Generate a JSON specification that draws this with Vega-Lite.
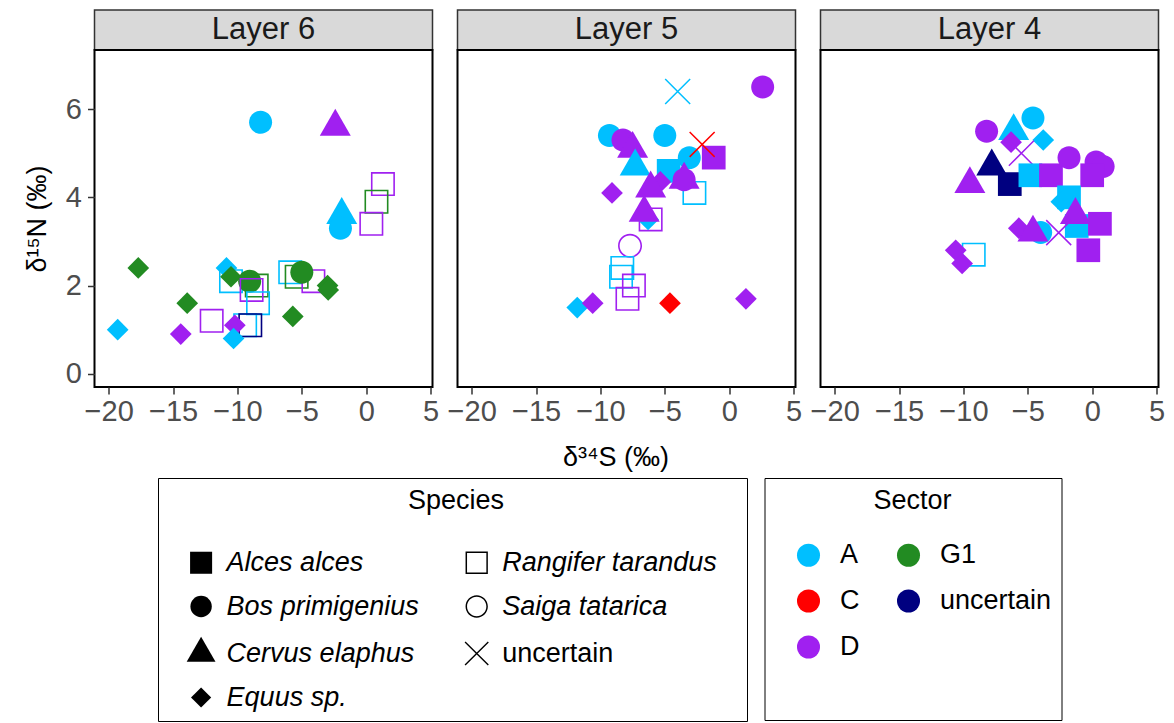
{
  "$schema": "https://vega.github.io/schema/vega-lite/v6.json",
  "padding": {"left": 21.5, "top": 9, "right": 5, "bottom": 0},
  "background": "white",
  "datasets": {
    "layers": [{"layer": "Layer 6"}, {"layer": "Layer 5"}, {"layer": "Layer 4"}],
    "points": [
      {"layer": "Layer 6", "species": "Bos primigenius", "sector": "A", "d34S": -8.2, "d15N": 5.7},
      {"layer": "Layer 6", "species": "Cervus elaphus", "sector": "D", "d34S": -2.4, "d15N": 5.6},
      {"layer": "Layer 6", "species": "Cervus elaphus", "sector": "A", "d34S": -1.9, "d15N": 3.6},
      {"layer": "Layer 6", "species": "Bos primigenius", "sector": "A", "d34S": -2.0, "d15N": 3.3},
      {"layer": "Layer 6", "species": "Rangifer tarandus", "sector": "D", "d34S": 1.3, "d15N": 4.3},
      {"layer": "Layer 6", "species": "Rangifer tarandus", "sector": "G1", "d34S": 0.8, "d15N": 3.9},
      {"layer": "Layer 6", "species": "Rangifer tarandus", "sector": "D", "d34S": 0.4, "d15N": 3.4},
      {"layer": "Layer 6", "species": "Equus sp.", "sector": "G1", "d34S": -17.7, "d15N": 2.4},
      {"layer": "Layer 6", "species": "Equus sp.", "sector": "A", "d34S": -19.3, "d15N": 1.0},
      {"layer": "Layer 6", "species": "Equus sp.", "sector": "G1", "d34S": -13.9, "d15N": 1.6},
      {"layer": "Layer 6", "species": "Equus sp.", "sector": "D", "d34S": -14.4, "d15N": 0.9},
      {"layer": "Layer 6", "species": "Rangifer tarandus", "sector": "D", "d34S": -12.0, "d15N": 1.2},
      {"layer": "Layer 6", "species": "Equus sp.", "sector": "A", "d34S": -10.85, "d15N": 2.4},
      {"layer": "Layer 6", "species": "Rangifer tarandus", "sector": "A", "d34S": -10.5, "d15N": 2.1},
      {"layer": "Layer 6", "species": "Equus sp.", "sector": "G1", "d34S": -10.5, "d15N": 2.2},
      {"layer": "Layer 6", "species": "Bos primigenius", "sector": "G1", "d34S": -9.05, "d15N": 2.1},
      {"layer": "Layer 6", "species": "Rangifer tarandus", "sector": "G1", "d34S": -8.5, "d15N": 2.0},
      {"layer": "Layer 6", "species": "Rangifer tarandus", "sector": "D", "d34S": -8.9, "d15N": 1.9},
      {"layer": "Layer 6", "species": "Rangifer tarandus", "sector": "A", "d34S": -8.4, "d15N": 1.6},
      {"layer": "Layer 6", "species": "Rangifer tarandus", "sector": "A", "d34S": -9.4, "d15N": 1.1},
      {"layer": "Layer 6", "species": "Rangifer tarandus", "sector": "uncertain", "d34S": -9.0, "d15N": 1.1},
      {"layer": "Layer 6", "species": "Equus sp.", "sector": "D", "d34S": -10.2, "d15N": 1.1},
      {"layer": "Layer 6", "species": "Equus sp.", "sector": "A", "d34S": -10.3, "d15N": 0.8},
      {"layer": "Layer 6", "species": "Rangifer tarandus", "sector": "A", "d34S": -5.9, "d15N": 2.3},
      {"layer": "Layer 6", "species": "Rangifer tarandus", "sector": "G1", "d34S": -5.4, "d15N": 2.2},
      {"layer": "Layer 6", "species": "Rangifer tarandus", "sector": "D", "d34S": -4.1, "d15N": 2.1},
      {"layer": "Layer 6", "species": "Bos primigenius", "sector": "G1", "d34S": -5.0, "d15N": 2.3},
      {"layer": "Layer 6", "species": "Equus sp.", "sector": "G1", "d34S": -3.0, "d15N": 2.0},
      {"layer": "Layer 6", "species": "Equus sp.", "sector": "G1", "d34S": -2.95, "d15N": 1.9},
      {"layer": "Layer 6", "species": "Equus sp.", "sector": "G1", "d34S": -5.7, "d15N": 1.3},

      {"layer": "Layer 5", "species": "Rangifer tarandus", "sector": "A", "d34S": -2.7, "d15N": 4.1},
      {"layer": "Layer 5", "species": "Rangifer tarandus", "sector": "D", "d34S": -6.1, "d15N": 3.5},
      {"layer": "Layer 5", "species": "Bos primigenius", "sector": "D", "d34S": 2.6, "d15N": 6.5},
      {"layer": "Layer 5", "species": "Bos primigenius", "sector": "A", "d34S": -9.3, "d15N": 5.4},
      {"layer": "Layer 5", "species": "Bos primigenius", "sector": "D", "d34S": -8.25, "d15N": 5.3},
      {"layer": "Layer 5", "species": "Cervus elaphus", "sector": "D", "d34S": -7.5, "d15N": 5.1},
      {"layer": "Layer 5", "species": "Bos primigenius", "sector": "A", "d34S": -5.0, "d15N": 5.4},
      {"layer": "Layer 5", "species": "Bos primigenius", "sector": "A", "d34S": -3.1, "d15N": 4.9},
      {"layer": "Layer 5", "species": "Alces alces", "sector": "D", "d34S": -1.2, "d15N": 4.9},
      {"layer": "Layer 5", "species": "Alces alces", "sector": "A", "d34S": -4.7, "d15N": 4.6},
      {"layer": "Layer 5", "species": "Cervus elaphus", "sector": "A", "d34S": -7.3, "d15N": 4.7},
      {"layer": "Layer 5", "species": "Equus sp.", "sector": "D", "d34S": -5.35, "d15N": 4.35},
      {"layer": "Layer 5", "species": "Cervus elaphus", "sector": "D", "d34S": -6.1, "d15N": 4.2},
      {"layer": "Layer 5", "species": "Bos primigenius", "sector": "D", "d34S": -3.5, "d15N": 4.4},
      {"layer": "Layer 5", "species": "Cervus elaphus", "sector": "D", "d34S": -3.5, "d15N": 4.4},
      {"layer": "Layer 5", "species": "Equus sp.", "sector": "D", "d34S": -9.1, "d15N": 4.1},
      {"layer": "Layer 5", "species": "Equus sp.", "sector": "A", "d34S": -6.3, "d15N": 3.5},
      {"layer": "Layer 5", "species": "Cervus elaphus", "sector": "D", "d34S": -6.6, "d15N": 3.65},
      {"layer": "Layer 5", "species": "Saiga tatarica", "sector": "D", "d34S": -7.7, "d15N": 2.9},
      {"layer": "Layer 5", "species": "Rangifer tarandus", "sector": "A", "d34S": -8.3, "d15N": 2.4},
      {"layer": "Layer 5", "species": "Rangifer tarandus", "sector": "A", "d34S": -8.4, "d15N": 2.2},
      {"layer": "Layer 5", "species": "Rangifer tarandus", "sector": "D", "d34S": -7.4, "d15N": 2.0},
      {"layer": "Layer 5", "species": "Rangifer tarandus", "sector": "D", "d34S": -7.9, "d15N": 1.7},
      {"layer": "Layer 5", "species": "Equus sp.", "sector": "A", "d34S": -11.8, "d15N": 1.5},
      {"layer": "Layer 5", "species": "Equus sp.", "sector": "D", "d34S": -10.6, "d15N": 1.6},
      {"layer": "Layer 5", "species": "Equus sp.", "sector": "C", "d34S": -4.6, "d15N": 1.6},
      {"layer": "Layer 5", "species": "Equus sp.", "sector": "D", "d34S": 1.3, "d15N": 1.7},
      {"layer": "Layer 5", "species": "uncertain", "sector": "A", "d34S": -4.0, "d15N": 6.4},
      {"layer": "Layer 5", "species": "uncertain", "sector": "C", "d34S": -2.1, "d15N": 5.2},

      {"layer": "Layer 4", "species": "Rangifer tarandus", "sector": "A", "d34S": -9.2, "d15N": 2.7},
      {"layer": "Layer 4", "species": "Bos primigenius", "sector": "D", "d34S": -8.2, "d15N": 5.5},
      {"layer": "Layer 4", "species": "Cervus elaphus", "sector": "A", "d34S": -6.1, "d15N": 5.5},
      {"layer": "Layer 4", "species": "Bos primigenius", "sector": "A", "d34S": -4.6, "d15N": 5.8},
      {"layer": "Layer 4", "species": "Equus sp.", "sector": "D", "d34S": -6.3, "d15N": 5.25},
      {"layer": "Layer 4", "species": "Equus sp.", "sector": "A", "d34S": -3.8, "d15N": 5.3},
      {"layer": "Layer 4", "species": "uncertain", "sector": "D", "d34S": -5.5, "d15N": 5.0},
      {"layer": "Layer 4", "species": "Cervus elaphus", "sector": "uncertain", "d34S": -7.8, "d15N": 4.7},
      {"layer": "Layer 4", "species": "Alces alces", "sector": "uncertain", "d34S": -6.4, "d15N": 4.3},
      {"layer": "Layer 4", "species": "Cervus elaphus", "sector": "D", "d34S": -9.5, "d15N": 4.3},
      {"layer": "Layer 4", "species": "Alces alces", "sector": "A", "d34S": -4.8, "d15N": 4.5},
      {"layer": "Layer 4", "species": "Alces alces", "sector": "D", "d34S": -3.2, "d15N": 4.5},
      {"layer": "Layer 4", "species": "Bos primigenius", "sector": "D", "d34S": -1.8, "d15N": 4.9},
      {"layer": "Layer 4", "species": "Bos primigenius", "sector": "D", "d34S": 0.3, "d15N": 4.8},
      {"layer": "Layer 4", "species": "Bos primigenius", "sector": "D", "d34S": 0.85, "d15N": 4.7},
      {"layer": "Layer 4", "species": "Alces alces", "sector": "D", "d34S": 0.0, "d15N": 4.5},
      {"layer": "Layer 4", "species": "Alces alces", "sector": "A", "d34S": -1.8, "d15N": 4.0},
      {"layer": "Layer 4", "species": "Equus sp.", "sector": "A", "d34S": -2.4, "d15N": 3.9},
      {"layer": "Layer 4", "species": "Alces alces", "sector": "A", "d34S": -1.2, "d15N": 3.35},
      {"layer": "Layer 4", "species": "Cervus elaphus", "sector": "D", "d34S": -1.3, "d15N": 3.6},
      {"layer": "Layer 4", "species": "Alces alces", "sector": "D", "d34S": 0.6, "d15N": 3.4},
      {"layer": "Layer 4", "species": "Alces alces", "sector": "D", "d34S": -0.3, "d15N": 2.8},
      {"layer": "Layer 4", "species": "Bos primigenius", "sector": "A", "d34S": -4.0, "d15N": 3.2},
      {"layer": "Layer 4", "species": "uncertain", "sector": "D", "d34S": -2.6, "d15N": 3.2},
      {"layer": "Layer 4", "species": "Equus sp.", "sector": "D", "d34S": -5.7, "d15N": 3.3},
      {"layer": "Layer 4", "species": "Cervus elaphus", "sector": "D", "d34S": -4.6, "d15N": 3.2},
      {"layer": "Layer 4", "species": "Equus sp.", "sector": "D", "d34S": -10.6, "d15N": 2.8},
      {"layer": "Layer 4", "species": "Equus sp.", "sector": "D", "d34S": -10.1, "d15N": 2.5}
    ]
  },
  "config": {
    "font": "Liberation Sans",
    "view": {"stroke": null},
    "axis": {"domain": false, "grid": false, "tickColor": "#333333", "tickWidth": 1.5, "tickSize": 7, "labelColor": "#4d4d4d", "labelFontSize": 29, "labelFont": "Liberation Sans", "labelPadding": 3, "labelFlush": false, "labelOverlap": false, "labelBound": false, "titleFont": "Liberation Sans", "titleFontSize": 27, "titleFontWeight": "normal", "titleColor": "black"},
    "axisY": {"titlePadding": 14, "labelPadding": 6},
    "axisX": {"titlePadding": 18},
    "legend": {"labelFont": "Liberation Sans", "labelFontSize": 27, "labelColor": "black", "titleFont": "Liberation Sans", "titleFontSize": 27, "titleFontWeight": "normal", "titleColor": "black", "strokeColor": "black", "symbolOpacity": 1, "labelLimit": 0, "titleLimit": 0, "direction": "vertical"}
  },
  "spacing": 5,
  "resolve": {"scale": {"color": "shared", "shape": "shared"}, "legend": {"color": "shared", "shape": "shared"}},
  "hconcat": [
    {
      "spacing": 0,
      "bounds": "flush",
      "vconcat": [
        {
          "data": {"name": "layers"},
          "transform": [{"filter": "datum.layer === 'Layer 6'"}],
          "width": 338, "height": 40,
          "view": {"fill": "#d9d9d9", "stroke": "#333333", "strokeWidth": 1.5},
          "mark": {"type": "text", "fontSize": 31, "color": "#1a1a1a"},
          "encoding": {"text": {"field": "layer", "type": "nominal"}}
        },
        {
          "data": {"name": "points"},
          "transform": [{"filter": "datum.layer === 'Layer 6'"}],
          "width": 338, "height": 337,
          "view": {"fill": "white", "stroke": "black", "strokeWidth": 2},
          "mark": {"type": "point", "filled": true, "opacity": 1, "size": 961, "strokeWidth": 0},
          "encoding": {
            "x": {"field": "d34S", "type": "quantitative", "scale": {"domain": [-21.1, 5.15], "nice": false, "zero": false}, "axis": {"values": [-20, -15, -10, -5, 0, 5], "title": null}},
            "y": {"field": "d15N", "type": "quantitative", "scale": {"domain": [-0.3, 7.34], "nice": false, "zero": false}, "axis": {"values": [0, 2, 4, 6], "title": "δ¹⁵N (‰)"}},
            "shape": {"field": "species", "type": "nominal",
              "scale": {"domain": ["Alces alces", "Bos primigenius", "Cervus elaphus", "Equus sp.", "Rangifer tarandus", "Saiga tatarica", "uncertain"],
                        "range": [
                          "M-0.765,-0.765L0.765,-0.765L0.765,0.765L-0.765,0.765Z",
                          "M0.742,0C0.742,0.4098,0.4098,0.742,0,0.742C-0.4098,0.742,-0.742,0.4098,-0.742,0C-0.742,-0.4098,-0.4098,-0.742,0,-0.742C0.4098,-0.742,0.742,-0.4098,0.742,0Z",
                          "M0,-1.155L1,0.577L-1,0.577Z",
                          "M-0.7,0L0,-0.7L0.7,0L0,0.7Z",
                          "M-0.774,-0.774L0.774,-0.774L0.774,0.774L-0.774,0.774Z M-0.671,-0.671L-0.671,0.671L0.671,0.671L0.671,-0.671Z",
                          "M0.774,0C0.774,0.4275,0.4275,0.774,0,0.774C-0.4275,0.774,-0.774,0.4275,-0.774,0C-0.774,-0.4275,-0.4275,-0.774,0,-0.774C0.4275,-0.774,0.774,-0.4275,0.774,0Z M0.671,0C0.671,-0.3706,0.3706,-0.671,0,-0.671C-0.3706,-0.671,-0.671,-0.3706,-0.671,0C-0.671,0.3706,-0.3706,0.671,0,0.671C0.3706,0.671,0.671,0.3706,0.671,0Z",
                          "M-0.772,-0.84L0.84,0.772L0.772,0.84L-0.84,-0.772Z M0.84,-0.772L-0.772,0.84L-0.84,0.772L0.772,-0.84Z"
                        ]},
              "legend": {
                "title": "\u200b\u00a0\u00a0\u00a0\u00a0\u00a0\u00a0\u00a0\u00a0\u00a0\u00a0\u00a0\u00a0\u00a0\u00a0\u00a0\u00a0\u00a0\u00a0\u00a0\u00a0\u00a0\u00a0\u00a0\u00a0\u00a0\u00a0\u00a0\u00a0\u00a0\u00a0\u00a0\u00a0Species\u00a0\u00a0\u00a0\u00a0\u00a0\u00a0\u00a0\u00a0\u00a0\u00a0\u00a0\u00a0\u00a0\u00a0\u00a0\u00a0\u00a0\u00a0\u00a0\u00a0\u00a0\u00a0\u00a0\u00a0\u00a0\u00a0\u00a0\u00a0\u00a0\u00a0\u00a0\u200b",
                "titleAnchor": "start",
                "orient": "none", "legendX": 63.5, "legendY": 468,
                "columns": 2, "padding": 10, "symbolOffset": 18.6, "columnPadding": 24.6, "rowPadding": 16, "titlePadding": 33, "labelOffset": 11,
                "symbolSize": 830, "symbolFillColor": "black", "symbolStrokeWidth": 0,
                "labelFontStyle": {"expr": "datum.value === 'uncertain' ? 'normal' : 'italic'"}
              }
            },
            "color": {"field": "sector", "type": "nominal",
              "scale": {"domain": ["A", "C", "D", "G1", "uncertain"], "range": ["#00BFFF", "#FF0000", "#A020F0", "#228B22", "#000080"]},
              "legend": {
                "title": ["Sector", "\u200b", "\u200b", "\u200b", "\u200b", "\u200b", "\u200b", "\u200b"],
                "titleLineHeight": 27.9,
                "titleAnchor": "middle",
                "orient": "none", "legendX": 670, "legendY": 468,
                "columns": 2, "padding": 10, "symbolOffset": 20.5, "columnPadding": 15, "rowPadding": 18, "titlePadding": -168.8, "labelOffset": 18,
                "symbolType": "circle", "symbolSize": 530, "symbolStrokeWidth": 0
              }
            }
          }
        }
      ]
    },
    {
      "spacing": 0,
      "bounds": "flush",
      "vconcat": [
        {
          "data": {"name": "layers"},
          "transform": [{"filter": "datum.layer === 'Layer 5'"}],
          "width": 338, "height": 40,
          "view": {"fill": "#d9d9d9", "stroke": "#333333", "strokeWidth": 1.5},
          "mark": {"type": "text", "fontSize": 31, "color": "#1a1a1a"},
          "encoding": {"text": {"field": "layer", "type": "nominal"}}
        },
        {
          "data": {"name": "points"},
          "transform": [{"filter": "datum.layer === 'Layer 5'"}],
          "width": 338, "height": 337,
          "view": {"fill": "white", "stroke": "black", "strokeWidth": 2},
          "mark": {"type": "point", "filled": true, "opacity": 1, "size": 961, "strokeWidth": 0},
          "encoding": {
            "x": {"field": "d34S", "type": "quantitative", "scale": {"domain": [-21.1, 5.15], "nice": false, "zero": false}, "axis": {"values": [-20, -15, -10, -5, 0, 5], "title": "δ³⁴S (‰)", "titleX": 158}},
            "y": {"field": "d15N", "type": "quantitative", "scale": {"domain": [-0.3, 7.34], "nice": false, "zero": false}, "axis": null},
            "shape": {"field": "species", "type": "nominal"},
            "color": {"field": "sector", "type": "nominal"}
          }
        }
      ]
    },
    {
      "spacing": 0,
      "bounds": "flush",
      "vconcat": [
        {
          "data": {"name": "layers"},
          "transform": [{"filter": "datum.layer === 'Layer 4'"}],
          "width": 338, "height": 40,
          "view": {"fill": "#d9d9d9", "stroke": "#333333", "strokeWidth": 1.5},
          "mark": {"type": "text", "fontSize": 31, "color": "#1a1a1a"},
          "encoding": {"text": {"field": "layer", "type": "nominal"}}
        },
        {
          "data": {"name": "points"},
          "transform": [{"filter": "datum.layer === 'Layer 4'"}],
          "width": 338, "height": 337,
          "view": {"fill": "white", "stroke": "black", "strokeWidth": 2},
          "mark": {"type": "point", "filled": true, "opacity": 1, "size": 961, "strokeWidth": 0},
          "encoding": {
            "x": {"field": "d34S", "type": "quantitative", "scale": {"domain": [-21.1, 5.15], "nice": false, "zero": false}, "axis": {"values": [-20, -15, -10, -5, 0, 5], "title": null}},
            "y": {"field": "d15N", "type": "quantitative", "scale": {"domain": [-0.3, 7.34], "nice": false, "zero": false}, "axis": null},
            "shape": {"field": "species", "type": "nominal"},
            "color": {"field": "sector", "type": "nominal"}
          }
        }
      ]
    }
  ]
}
